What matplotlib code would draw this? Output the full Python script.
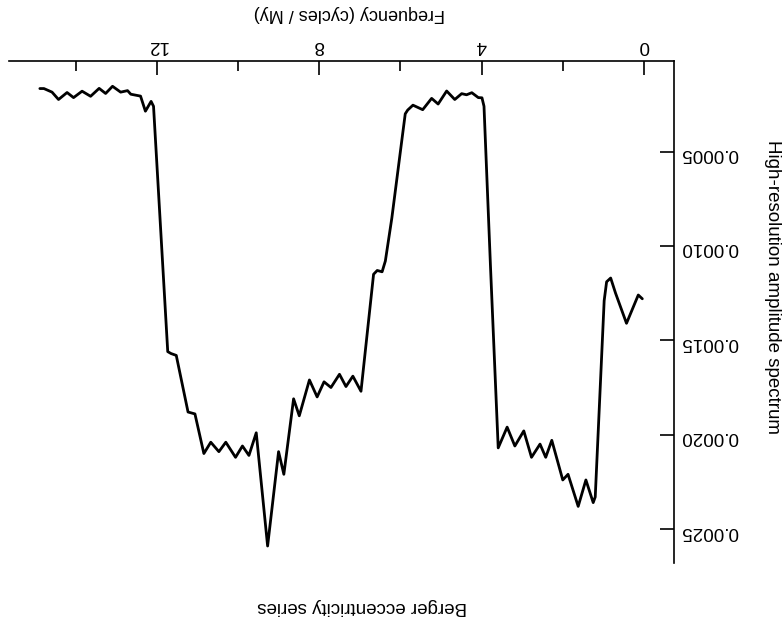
import matplotlib
matplotlib.use("Agg")
import matplotlib.pyplot as plt
from matplotlib.ticker import FixedLocator, FixedFormatter

plt.rcParams['font.family'] = ['Liberation Sans', 'DejaVu Sans']

# Frequency (cycles / My)
freq = [0.04, 0.14, 0.43, 0.70, 0.82, 0.92, 0.98, 1.20, 1.25, 1.43, 1.62, 1.87, 2.00,
        2.27, 2.42, 2.56, 2.77, 2.96, 3.18, 3.37, 3.59, 3.78, 3.94, 3.99, 4.08,
        4.24, 4.37, 4.49, 4.66, 4.86, 5.07, 5.23, 5.45, 5.69, 5.82, 5.88, 5.94,
        6.21, 6.37, 6.45, 6.57, 6.66, 6.97, 7.17, 7.34, 7.50, 7.71, 7.88,
        8.05, 8.24, 8.49, 8.63, 8.87, 9.00, 9.27, 9.55, 9.73, 9.89, 10.06,
        10.30, 10.47, 10.67, 10.84, 11.06, 11.23, 11.52, 11.65, 11.73, 12.08,
        12.14, 12.28, 12.40, 12.64, 12.72, 12.89, 13.09, 13.26, 13.42, 13.63,
        13.84, 14.05, 14.21, 14.42, 14.58, 14.78, 14.88]
# High-resolution amplitude spectrum
amplitude = [0.00128, 0.00126, 0.00141, 0.00125, 0.00117, 0.00119, 0.00129,
             0.00233, 0.00236,
             0.00224, 0.00238, 0.00221, 0.00224, 0.00203, 0.00212, 0.00205,
             0.00212, 0.00198, 0.00206, 0.00196, 0.00207, 0.00111, 0.000260,
             0.000215, 0.000214, 0.000188, 0.000199, 0.000193, 0.000224, 0.000179,
             0.000248, 0.000218, 0.000278, 0.000254, 0.000280, 0.000300, 0.000400,
             0.000852, 0.00108, 0.001137, 0.00113, 0.00115, 0.00177, 0.00169,
             0.001745, 0.00168, 0.00175, 0.00172, 0.00180, 0.00171, 0.00190,
             0.00181, 0.00221, 0.00209, 0.00259, 0.00199, 0.00211, 0.00206,
             0.00212, 0.00204, 0.00209, 0.00204, 0.00210, 0.00189, 0.00188,
             0.00158, 0.00157, 0.00156, 0.000260, 0.000234, 0.000286,
             0.000206, 0.000196, 0.000177, 0.000185, 0.000154, 0.000192,
             0.000165, 0.000207, 0.000180, 0.000214, 0.000187, 0.000224,
             0.000185, 0.000166, 0.000166]

x_major = [0, 4, 8, 12]
x_major_labels = ["0", "4", "8", "12"]
x_minor = [2, 6, 10, 14]
y_major = [0.0005, 0.0010, 0.0015, 0.0020, 0.0025]
y_major_labels = ["0.0005", "0.0010", "0.0015", "0.0020", "0.0025"]

W, H = 783, 626
fig = plt.figure(figsize=(W / 100, H / 100), dpi=100)
L, R, T, B = 9, 674, 61, 563
ax = fig.add_axes([L / W, 1 - B / H, (R - L) / W, (B - T) / H])

ax.plot(freq, amplitude, color='black', lw=2.0, solid_joinstyle='round',
        solid_capstyle='round')

ax.set_xlim(15.64, -0.74)
ax.set_ylim(0.00268, 0.00002)

for s in ['left', 'bottom']:
    ax.spines[s].set_visible(False)
for s in ['top', 'right']:
    ax.spines[s].set_linewidth(1.2)

ax.xaxis.tick_top()
ax.yaxis.tick_right()
ax.xaxis.set_major_locator(FixedLocator(x_major))
ax.xaxis.set_major_formatter(FixedFormatter(x_major_labels))
ax.xaxis.set_minor_locator(FixedLocator(x_minor))
ax.yaxis.set_major_locator(FixedLocator(y_major))
ax.yaxis.set_major_formatter(FixedFormatter(y_major_labels))

ax.tick_params(axis='x', which='major', direction='in', length=10, width=1.2,
               pad=5, labelsize=13.5, labelrotation=180, top=True, bottom=False)
ax.tick_params(axis='x', which='minor', direction='in', length=7, width=1.2,
               top=True, bottom=False)
ax.tick_params(axis='y', which='major', direction='in', length=10, width=1.2,
               pad=5, labelsize=13.5, labelrotation=180, right=True, left=False)

ax.xaxis.set_label_position('top')
ax.set_xlabel("Frequency (cycles / My)", fontsize=13, rotation=180)
ax.xaxis.set_label_coords((349 - L) / (R - L), 1 + (T - 18) / (B - T))

fig.text(772 / W, 1 - 287 / H, "High-resolution amplitude spectrum",
         rotation=270, fontsize=13.5, ha='center', va='center')
fig.text(362 / W, 1 - 607 / H, "Berger eccentricity series",
         rotation=180, fontsize=13.5, ha='center', va='center')

fig.savefig("out.png", dpi=100)
